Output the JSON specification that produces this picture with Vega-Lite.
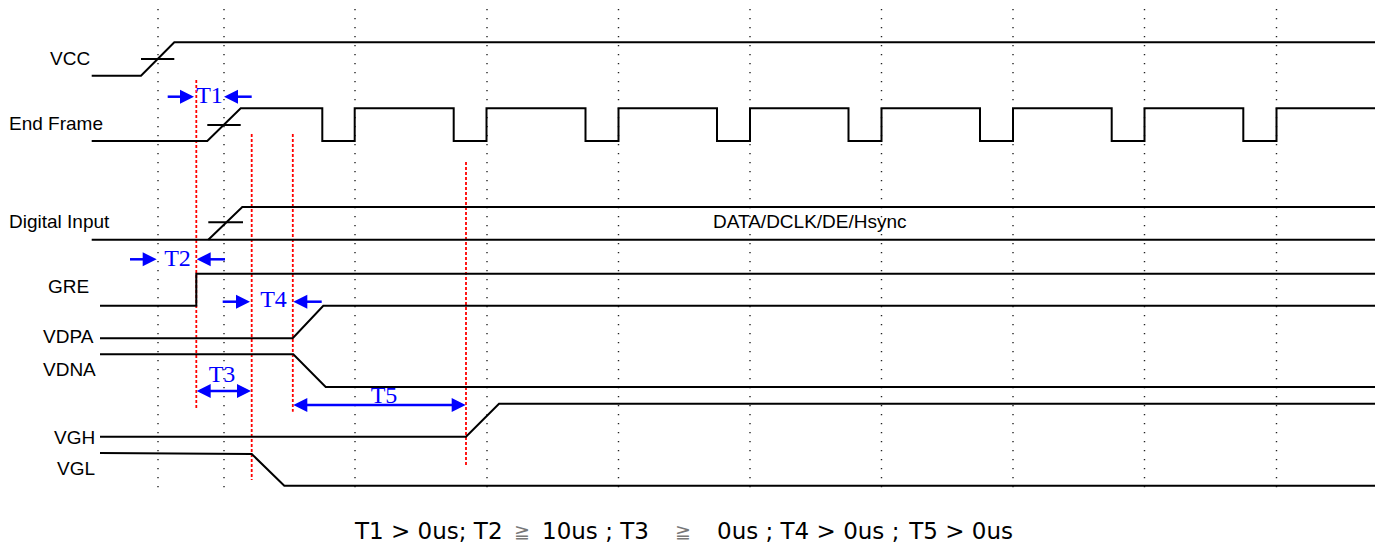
{
  "$schema": "https://vega.github.io/schema/vega-lite/v6.json",
  "width": 1385,
  "height": 550,
  "autosize": {"type": "fit", "contains": "padding"},
  "padding": 0,
  "background": "white",
  "config": {"view": {"stroke": null}},
  "datasets": {
    "grid": [
      {"x": 158, "y": 9, "y2": 495}, {"x": 224, "y": 9, "y2": 495}, {"x": 355, "y": 9, "y2": 495},
      {"x": 487, "y": 9, "y2": 495}, {"x": 618.5, "y": 9, "y2": 495}, {"x": 750, "y": 9, "y2": 495},
      {"x": 881.5, "y": 9, "y2": 495}, {"x": 1013, "y": 9, "y2": 495}, {"x": 1144.5, "y": 9, "y2": 495},
      {"x": 1276.5, "y": 9, "y2": 495}
    ],
    "red": [
      {"x": 196.3, "y": 80, "y2": 410},
      {"x": 251.7, "y": 134, "y2": 480},
      {"x": 292.8, "y": 134, "y2": 411.7},
      {"x": 466, "y": 162, "y2": 466}
    ],
    "sig": [
      {"s": "VCC", "o": 0, "x": 91.7, "y": 75.7}, {"s": "VCC", "o": 1, "x": 141, "y": 75.7},
      {"s": "VCC", "o": 2, "x": 174.3, "y": 42.3}, {"s": "VCC", "o": 3, "x": 1375, "y": 42.3},
      {"s": "VCC_s", "o": 0, "x": 141, "y": 59}, {"s": "VCC_s", "o": 1, "x": 174.3, "y": 59},
      {"s": "EF", "o": 0, "x": 91.7, "y": 141}, {"s": "EF", "o": 1, "x": 207.3, "y": 141},
      {"s": "EF", "o": 2, "x": 240.7, "y": 108.3}, {"s": "EF", "o": 3, "x": 322.3, "y": 108.3},
      {"s": "EF", "o": 4, "x": 322.3, "y": 141}, {"s": "EF", "o": 5, "x": 354.7, "y": 141},
      {"s": "EF", "o": 6, "x": 354.7, "y": 108.3}, {"s": "EF", "o": 7, "x": 453.7, "y": 108.3},
      {"s": "EF", "o": 8, "x": 453.7, "y": 141}, {"s": "EF", "o": 9, "x": 486.5, "y": 141},
      {"s": "EF", "o": 10, "x": 486.5, "y": 108.3}, {"s": "EF", "o": 11, "x": 585.5, "y": 108.3},
      {"s": "EF", "o": 12, "x": 585.5, "y": 141}, {"s": "EF", "o": 13, "x": 618.5, "y": 141},
      {"s": "EF", "o": 14, "x": 618.5, "y": 108.3}, {"s": "EF", "o": 15, "x": 717, "y": 108.3},
      {"s": "EF", "o": 16, "x": 717, "y": 141}, {"s": "EF", "o": 17, "x": 750, "y": 141},
      {"s": "EF", "o": 18, "x": 750, "y": 108.3}, {"s": "EF", "o": 19, "x": 848.5, "y": 108.3},
      {"s": "EF", "o": 20, "x": 848.5, "y": 141}, {"s": "EF", "o": 21, "x": 881.5, "y": 141},
      {"s": "EF", "o": 22, "x": 881.5, "y": 108.3}, {"s": "EF", "o": 23, "x": 980, "y": 108.3},
      {"s": "EF", "o": 24, "x": 980, "y": 141}, {"s": "EF", "o": 25, "x": 1013, "y": 141},
      {"s": "EF", "o": 26, "x": 1013, "y": 108.3}, {"s": "EF", "o": 27, "x": 1111.7, "y": 108.3},
      {"s": "EF", "o": 28, "x": 1111.7, "y": 141}, {"s": "EF", "o": 29, "x": 1144.5, "y": 141},
      {"s": "EF", "o": 30, "x": 1144.5, "y": 108.3}, {"s": "EF", "o": 31, "x": 1243.3, "y": 108.3},
      {"s": "EF", "o": 32, "x": 1243.3, "y": 141}, {"s": "EF", "o": 33, "x": 1276.5, "y": 141},
      {"s": "EF", "o": 34, "x": 1276.5, "y": 108.3}, {"s": "EF", "o": 35, "x": 1375, "y": 108.3},
      {"s": "EF_s", "o": 0, "x": 207.3, "y": 125}, {"s": "EF_s", "o": 1, "x": 240.7, "y": 125},
      {"s": "DI_lo", "o": 0, "x": 91.7, "y": 239.7}, {"s": "DI_lo", "o": 1, "x": 1375, "y": 239.7},
      {"s": "DI_hi", "o": 0, "x": 208.3, "y": 239.7}, {"s": "DI_hi", "o": 1, "x": 242.3, "y": 207},
      {"s": "DI_hi", "o": 2, "x": 1375, "y": 207},
      {"s": "DI_s", "o": 0, "x": 208.3, "y": 222.3}, {"s": "DI_s", "o": 1, "x": 243, "y": 222.3},
      {"s": "GRE", "o": 0, "x": 100, "y": 305.7}, {"s": "GRE", "o": 1, "x": 196.3, "y": 305.7},
      {"s": "GRE", "o": 2, "x": 196.3, "y": 273.7}, {"s": "GRE", "o": 3, "x": 1375, "y": 273.7},
      {"s": "VDPA", "o": 0, "x": 100, "y": 338.3}, {"s": "VDPA", "o": 1, "x": 292.7, "y": 338.3},
      {"s": "VDPA", "o": 2, "x": 323.3, "y": 305.7}, {"s": "VDPA", "o": 3, "x": 1375, "y": 305.7},
      {"s": "VDNA", "o": 0, "x": 100, "y": 354.3}, {"s": "VDNA", "o": 1, "x": 293.3, "y": 354.3},
      {"s": "VDNA", "o": 2, "x": 325.7, "y": 387}, {"s": "VDNA", "o": 3, "x": 1375, "y": 387},
      {"s": "VGH", "o": 0, "x": 100, "y": 436.7}, {"s": "VGH", "o": 1, "x": 466, "y": 436.7},
      {"s": "VGH", "o": 2, "x": 499, "y": 403.7}, {"s": "VGH", "o": 3, "x": 1375, "y": 403.7},
      {"s": "VGL", "o": 0, "x": 100, "y": 453}, {"s": "VGL", "o": 1, "x": 251.7, "y": 454},
      {"s": "VGL", "o": 2, "x": 284.3, "y": 485.7}, {"s": "VGL", "o": 3, "x": 1375, "y": 485.7}
    ],
    "shafts": [
      {"x": 167.7, "x2": 190, "y": 96.7}, {"x": 251.7, "x2": 228, "y": 96.7},
      {"x": 130, "x2": 153, "y": 259.3}, {"x": 225, "x2": 200, "y": 259.3},
      {"x": 222.7, "x2": 246, "y": 301.7}, {"x": 321.7, "x2": 297, "y": 301.7},
      {"x": 200, "x2": 247, "y": 391},
      {"x": 297, "x2": 462, "y": 405}
    ],
    "heads": [
      {"x": 194, "y": 96.7, "d": "r"}, {"x": 224, "y": 96.7, "d": "l"},
      {"x": 156.7, "y": 259.3, "d": "r"}, {"x": 196.7, "y": 259.3, "d": "l"},
      {"x": 250, "y": 301.7, "d": "r"}, {"x": 293.3, "y": 301.7, "d": "l"},
      {"x": 196.7, "y": 391, "d": "l"}, {"x": 251, "y": 391, "d": "r"},
      {"x": 293.3, "y": 405, "d": "l"}, {"x": 465.7, "y": 405, "d": "r"}
    ],
    "tlabels": [
      {"t": "T1", "x": 209.5, "y": 96}, {"t": "T2", "x": 177.5, "y": 259},
      {"t": "T4", "x": 273.5, "y": 300}, {"t": "T3", "x": 222, "y": 375},
      {"t": "T5", "x": 384, "y": 396}
    ],
    "names": [
      {"t": "VCC", "x": 50, "y": 59}, {"t": "End Frame", "x": 9, "y": 124},
      {"t": "Digital Input", "x": 9, "y": 222}, {"t": "GRE", "x": 48, "y": 287},
      {"t": "VDPA", "x": 43, "y": 337}, {"t": "VDNA", "x": 43, "y": 370},
      {"t": "VGH", "x": 54, "y": 438}, {"t": "VGL", "x": 57, "y": 469},
      {"t": "DATA/DCLK/DE/Hsync", "x": 713, "y": 222}
    ],
    "noteL": [
      {"t": "T1 > 0us; T2", "x": 355, "y": 532},
      {"t": "10us ; T3", "x": 542, "y": 532},
      {"t": "0us ; T4 > 0us ;", "x": 717, "y": 532}
    ],
    "noteR": [
      {"t": "T5 > 0us", "x": 1013, "y": 532}
    ],
    "geq": [
      {"t": "≧", "x": 522, "y": 532},
      {"t": "≧", "x": 683, "y": 532}
    ]
  },
  "layer": [
    {
      "data": {"name": "grid"},
      "mark": {"type": "rule", "color": "#222", "strokeWidth": 1.4, "strokeDash": [1.3, 7.7]},
      "encoding": {
        "x": {"field": "x", "type": "quantitative", "scale": {"domain": [0, 1385], "nice": false, "zero": false}, "axis": null},
        "y": {"field": "y", "type": "quantitative", "scale": {"domain": [0, 550], "nice": false, "zero": false, "reverse": true}, "axis": null},
        "y2": {"field": "y2"}
      }
    },
    {
      "data": {"name": "red"},
      "mark": {"type": "rule", "color": "#ff0000", "strokeWidth": 1.8, "strokeDash": [3, 2]},
      "encoding": {
        "x": {"field": "x", "type": "quantitative"},
        "y": {"field": "y", "type": "quantitative"},
        "y2": {"field": "y2"}
      }
    },
    {
      "data": {"name": "sig"},
      "mark": {"type": "line", "color": "black", "strokeWidth": 2},
      "encoding": {
        "x": {"field": "x", "type": "quantitative"},
        "y": {"field": "y", "type": "quantitative"},
        "detail": {"field": "s"},
        "order": {"field": "o", "type": "quantitative"}
      }
    },
    {
      "data": {"name": "shafts"},
      "mark": {"type": "rule", "color": "#0000ff", "strokeWidth": 2.5},
      "encoding": {
        "x": {"field": "x", "type": "quantitative"},
        "x2": {"field": "x2"},
        "y": {"field": "y", "type": "quantitative"}
      }
    },
    {
      "data": {"name": "heads"},
      "mark": {"type": "point", "filled": true, "color": "#0000ff", "opacity": 1, "size": 196, "strokeWidth": 0},
      "encoding": {
        "x": {"field": "x", "type": "quantitative"},
        "y": {"field": "y", "type": "quantitative"},
        "shape": {"field": "d", "type": "nominal", "legend": null,
          "scale": {"domain": ["r", "l"], "range": ["M0,0L-2,-1L-2,1Z", "M0,0L2,-1L2,1Z"]}}
      }
    },
    {
      "data": {"name": "tlabels"},
      "mark": {"type": "text", "font": "Liberation Serif", "fontSize": 24, "color": "#0000ff", "align": "center", "baseline": "middle"},
      "encoding": {
        "x": {"field": "x", "type": "quantitative"},
        "y": {"field": "y", "type": "quantitative"},
        "text": {"field": "t"}
      }
    },
    {
      "data": {"name": "names"},
      "mark": {"type": "text", "font": "Liberation Sans", "fontSize": 19, "color": "black", "align": "left", "baseline": "middle"},
      "encoding": {
        "x": {"field": "x", "type": "quantitative"},
        "y": {"field": "y", "type": "quantitative"},
        "text": {"field": "t"}
      }
    },
    {
      "data": {"name": "noteL"},
      "mark": {"type": "text", "font": "DejaVu Sans", "fontSize": 23, "color": "black", "align": "left", "baseline": "middle"},
      "encoding": {
        "x": {"field": "x", "type": "quantitative"},
        "y": {"field": "y", "type": "quantitative"},
        "text": {"field": "t"}
      }
    },
    {
      "data": {"name": "noteR"},
      "mark": {"type": "text", "font": "DejaVu Sans", "fontSize": 23, "color": "black", "align": "right", "baseline": "middle"},
      "encoding": {
        "x": {"field": "x", "type": "quantitative"},
        "y": {"field": "y", "type": "quantitative"},
        "text": {"field": "t"}
      }
    },
    {
      "data": {"name": "geq"},
      "mark": {"type": "text", "font": "DejaVu Sans", "fontSize": 19, "color": "#777", "align": "center", "baseline": "middle"},
      "encoding": {
        "x": {"field": "x", "type": "quantitative"},
        "y": {"field": "y", "type": "quantitative"},
        "text": {"field": "t"}
      }
    }
  ]
}
